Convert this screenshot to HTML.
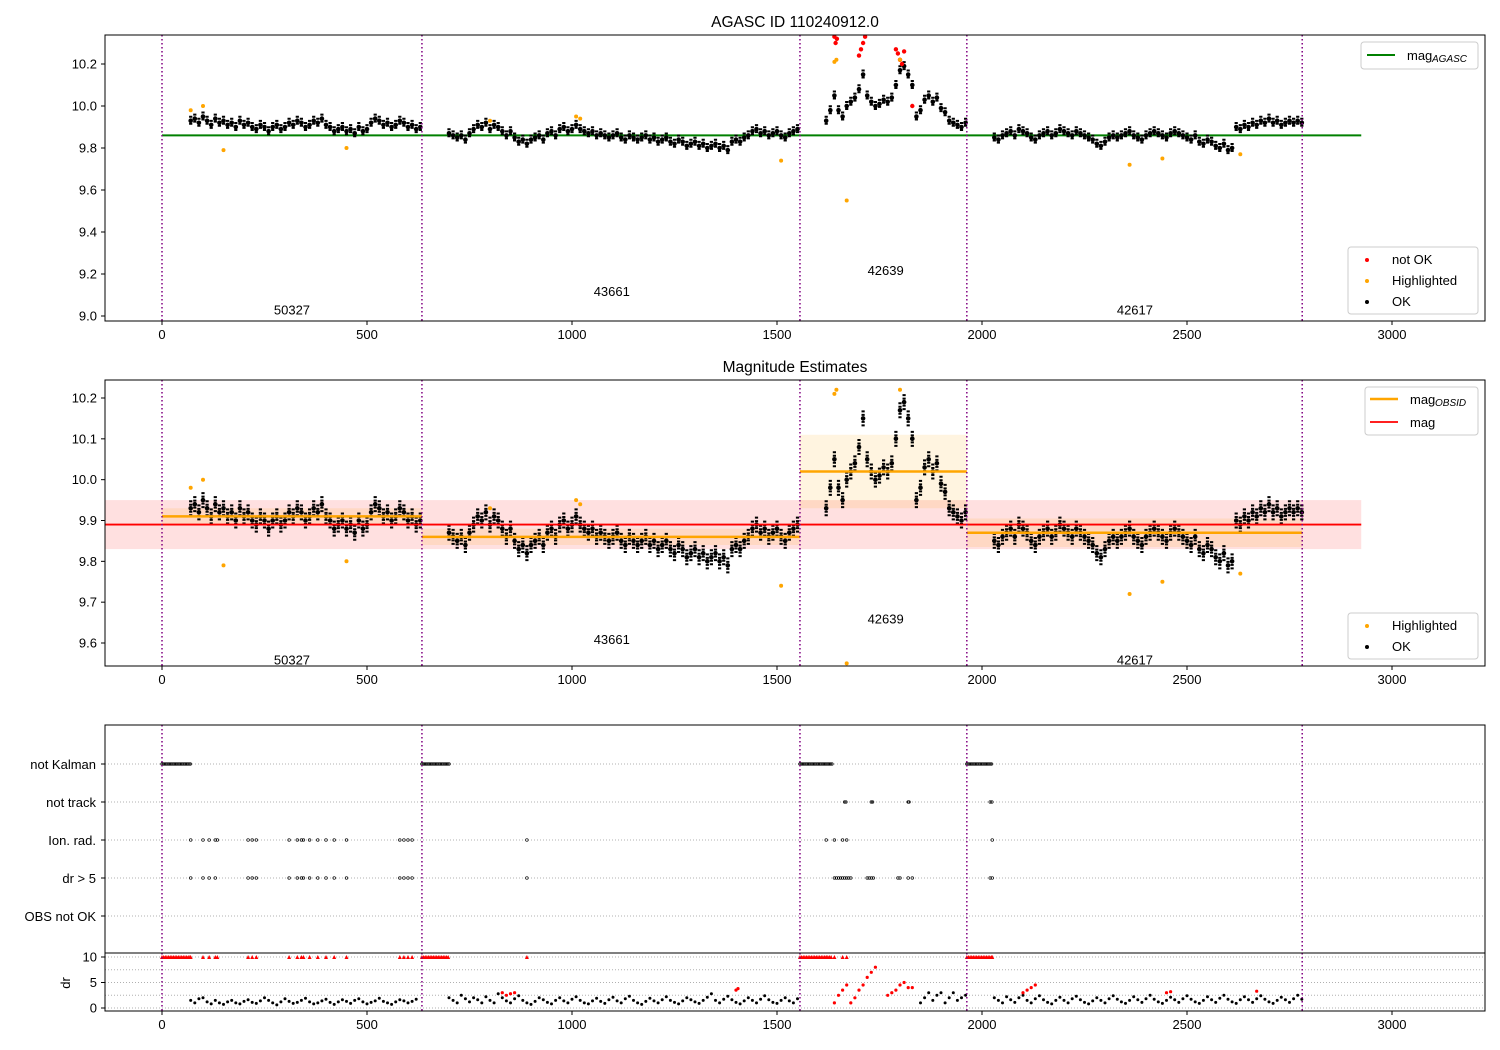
<!DOCTYPE html>
<html><head><meta charset="utf-8"><style>
body{margin:0;background:#fff;}
svg{display:block;font-family:"Liberation Sans","DejaVu Sans",sans-serif;}
text{fill:#000;}
</style></head><body>
<svg id="fig" width="1500" height="1050" viewBox="0 0 1500 1050" xmlns="http://www.w3.org/2000/svg"></svg>
<script>
// ---- data ----
const obsidStarts = [0, 634, 1556, 1963, 2781];
const obsidNames = ["50327", "43661", "42639", "42617"];
const obsidLabelT = [317, 1097, 1765, 2373];
const obsidLabelY1 = [9.03, 9.12, 9.22, 9.03];
const obsidLabelY2 = [9.56, 9.61, 9.66, 9.56];
const segT0 = [70, 700, 1620, 2030];
const segStep = [10, 10, 10, 10];
const mag1 = [9.93,9.94,9.92,9.95,9.93,9.91,9.94,9.92,9.93,9.91,9.92,9.90,9.93,9.91,9.92,9.90,9.89,9.91,9.90,9.88,9.90,9.91,9.89,9.90,9.92,9.91,9.93,9.92,9.90,9.91,9.93,9.92,9.94,9.91,9.90,9.88,9.89,9.90,9.88,9.89,9.87,9.90,9.88,9.89,9.92,9.94,9.93,9.91,9.92,9.90,9.91,9.93,9.92,9.90,9.91,9.89,9.90];
const mag2 = [9.87,9.86,9.85,9.86,9.84,9.87,9.89,9.91,9.90,9.92,9.89,9.91,9.90,9.88,9.86,9.88,9.85,9.83,9.84,9.82,9.84,9.85,9.86,9.84,9.87,9.88,9.86,9.89,9.90,9.88,9.89,9.91,9.89,9.88,9.87,9.88,9.86,9.87,9.86,9.85,9.86,9.87,9.85,9.84,9.86,9.85,9.84,9.85,9.86,9.84,9.85,9.83,9.84,9.85,9.83,9.82,9.84,9.83,9.81,9.82,9.83,9.81,9.82,9.80,9.81,9.82,9.80,9.81,9.79,9.83,9.84,9.83,9.85,9.86,9.88,9.89,9.87,9.88,9.86,9.87,9.88,9.86,9.85,9.87,9.88,9.89];
const mag3 = [9.93,9.98,10.05,9.98,9.95,10.00,10.02,10.04,10.08,10.15,10.05,10.02,10.00,10.01,10.03,10.02,10.04,10.10,10.17,10.19,10.15,10.10,9.95,9.98,10.03,10.05,10.02,10.04,9.99,9.97,9.93,9.92,9.91,9.90,9.92];
const mag4 = [9.85,9.84,9.86,9.87,9.88,9.86,9.89,9.88,9.87,9.85,9.84,9.86,9.87,9.88,9.86,9.87,9.89,9.88,9.87,9.86,9.88,9.87,9.86,9.85,9.84,9.82,9.81,9.83,9.85,9.86,9.85,9.86,9.87,9.88,9.86,9.85,9.84,9.86,9.87,9.88,9.87,9.86,9.85,9.87,9.88,9.87,9.86,9.85,9.84,9.86,9.83,9.82,9.84,9.83,9.81,9.80,9.82,9.79,9.80,9.90,9.89,9.91,9.90,9.92,9.91,9.93,9.92,9.94,9.92,9.93,9.91,9.92,9.93,9.92,9.93,9.92];
const notOkT = [1640,1643,1646,1700,1705,1710,1715,1720,1790,1795,1800,1805,1810,1830];
const notOkV = [10.33,10.30,10.32,10.24,10.27,10.30,10.33,10.35,10.27,10.25,10.22,10.20,10.26,10.00];
const hiT = [70,100,150,450,800,1010,1020,1510,1640,1645,1670,1800,2360,2440,2630];
const hiV = [9.98,10.00,9.79,9.80,9.93,9.95,9.94,9.74,10.21,10.22,9.55,10.22,9.72,9.75,9.77];
const magAgasc = 9.86;
const magMean = 9.89, magStd = 0.06;
const obsMag = [9.91, 9.86, 10.02, 9.87];
const obsStd = [0.02, 0.02, 0.09, 0.035];
const flagNames = ["not Kalman","not track","Ion. rad.","dr > 5","OBS not OK"];
const notKalmanRanges = [[0,70],[634,700],[1556,1635],[1963,2025]];
const notTrackT = [1665,1668,1730,1733,1820,1822,2020,2024];
const ionRadT = [70,100,115,130,135,210,220,230,310,330,340,345,360,380,400,420,450,580,590,600,610,890,1620,1640,1660,1670,2025];
const dr5T = [70,100,115,130,210,220,230,310,330,340,345,360,380,400,420,450,580,590,600,610,890,1640,1645,1650,1655,1660,1665,1670,1675,1680,1720,1725,1730,1735,1795,1800,1820,1830,2020,2025];
const drSegT0 = [70, 700, 1850, 2030];
const dr1 = [1.5,1,1.8,2,1.2,0.8,1.5,1,0.7,1.2,1.5,1,0.8,1.3,1.6,1.1,0.9,1.4,2,1.5,1,0.6,1.2,1.8,1.3,0.9,1.1,1.5,1.9,1.2,0.8,1,1.4,1.7,1.1,0.7,1.2,1.6,1.3,0.9,1.5,1.8,1.2,0.8,1.1,1.4,1.9,1.3,1,0.7,1.2,1.6,1.4,1,1.3,1.7];
const dr2 = [2,1.5,1,2.5,1.8,1.2,2,1.6,1,2.2,1.5,1,2.8,2,1.4,1,1.8,2.4,1.5,1,0.7,1.3,2,1.6,1.1,0.8,1.5,2,1.4,1,1.7,2.2,1.5,1,0.8,1.4,1.9,1.3,0.9,1.6,2.1,1.4,1,1.8,2.3,1.5,1,0.7,1.3,1.9,1.4,1,1.6,2.2,1.5,1.1,0.8,1.4,2,1.6,1.2,0.9,1.5,2.1,2.8,1.5,1,1.7,2.3,1.6,1.1,0.8,1.4,2,1.5,1,1.7,2.4,1.6,1.1,0.9,1.5,2,1.4,1,1.8];
const dr3 = [1,2,3,1.5,2.5,3,1,2,3,1.5,2,2.5];
const dr4 = [2,1.5,1,2.2,1.6,1.1,2,2.5,1.5,1,1.8,2.4,1.6,1.1,0.8,1.5,2.1,1.5,1,1.8,2.3,1.6,1.1,0.8,1.4,2,1.5,1,1.8,2.4,1.7,1.2,0.9,1.5,2.2,1.6,1.1,1.8,2.5,1.7,1.2,0.9,1.5,2.1,1.6,1.1,1.8,2.4,1.7,1.2,0.9,1.5,2.2,1.6,1.1,1.9,2.5,1.7,1.2,0.9,1.6,2.2,1.6,1.1,1.8,2.4,1.7,1.2,0.9,1.5,2.1,1.6,1.1,1.8,2.5,1.7];
const drRedT = [830,840,850,860,1400,1405,1640,1650,1660,1670,1680,1690,1700,1710,1720,1730,1740,1770,1780,1790,1800,1810,1820,1830,2100,2110,2120,2130,2450,2460,2670];
const drRedV = [3,2.5,2.8,3,3.5,3.8,1,2.5,3.5,4.5,1,2,3.5,4.5,6,7,8,2.5,3,3.5,4.5,5,4,4,3,3.5,4,4.5,3,3.2,3.3];
const xTicks = [0,500,1000,1500,2000,2500,3000];
const yTicks1 = [9.0,9.2,9.4,9.6,9.8,10.0,10.2];
const yTicks2 = [9.6,9.7,9.8,9.9,10.0,10.1,10.2];
const drTicks = [0,5,10];

// ---- scales ----
const AX_L=105, AX_R=1485;
const X = t => 162 + t*0.41;
const Y1 = v => 316 - (v-9.0)*210;
const Y2 = v => 643 - (v-9.6)*408.33;
const Yf = i => 764 + i*38;
const Ydr = v => 1008 - v*5.1;
const NS="http://www.w3.org/2000/svg";
const svg=document.getElementById('fig');
function el(tag, attrs, parent){const e=document.createElementNS(NS,tag);for(const k in attrs)e.setAttribute(k,attrs[k]);(parent||svg).appendChild(e);return e;}
function txt(s,x,y,size,anchor,parent){const t=el('text',{x:x,y:y,'font-size':size,'text-anchor':anchor||'middle'},parent);t.textContent=s;return t;}
function dot(x,y,r,fill,g){el('circle',{cx:x.toFixed(1),cy:y.toFixed(1),r:r,fill:fill},g);}

function frame(top,bot,name){
  const f=el('rect',{x:AX_L,y:top,width:AX_R-AX_L,height:bot-top,fill:'none',stroke:'#000','stroke-width':1});
  
  
}
function xAxis(bot,name){
  const g=el('g',{});
  
  
  xTicks.forEach(t=>{el('line',{x1:X(t),x2:X(t),y1:bot,y2:bot+4,stroke:'#000'},g);txt(String(t),X(t),bot+18,13,'middle',g);});
}
function yAxis(ticks,Y,top,bot,name,fmt){
  const g=el('g',{});
  
  
  ticks.forEach(v=>{const y=Y(v);el('line',{x1:AX_L-4,x2:AX_L,y1:y,y2:y,stroke:'#000'},g);txt(fmt(v),AX_L-8,y+4.5,13,'end',g);});
}
function vlines(top,bot,name){
  const g=el('g',{});
  
  
  obsidStarts.forEach(t=>el('line',{x1:X(t),x2:X(t),y1:top,y2:bot,stroke:'#800080','stroke-width':1.5,'stroke-dasharray':'1.5,2.5'},g));
}
function obsLabels(Yf_,ys,name){
  const g=el('g',{});
  
  
  obsidNames.forEach((n,i)=>txt(n,X(obsidLabelT[i]),Yf_(ys[i])+5,13,'middle',g));
}
function magDots(Y,g,top,bot,spread){
  [mag1,mag2,mag3,mag4].forEach((arr,s)=>arr.forEach((v,i)=>{const y=Y(v);if(y>top&&y<bot){const x=X(segT0[s]+i*segStep[s]);
    el('line',{x1:x,x2:x,y1:Math.max(top,y-spread),y2:Math.min(bot,y+spread),stroke:'#000','stroke-width':3.2,'stroke-dasharray':'2,1.5'},g);
    dot(x,y,2.3,'#000',g);}}));
}
const fmt1=v=>v.toFixed(1);

// ---- Panel 1 ----
const P1T=35,P1B=321;
let t1=txt('AGASC ID 110240912.0',795,27,15.5);


const g1=el('g',{});


let gl=el('line',{x1:X(0),x2:X(2925),y1:Y1(magAgasc),y2:Y1(magAgasc),stroke:'#008000','stroke-width':2},g1);


magDots(Y1,g1,P1T,P1B,5);
notOkT.forEach((t,i)=>{const y=Y1(notOkV[i]);if(y>P1T)dot(X(t),y,2.2,'#ff0000',g1);});
hiT.forEach((t,i)=>{const y=Y1(hiV[i]);if(y>P1T&&y<P1B)dot(X(t),y,2,'#ffa500',g1);});
vlines(P1T,P1B,'panel1-obsid-lines');
obsLabels(Y1,obsidLabelY1,'panel1-obsid-labels');
frame(P1T,P1B,'panel1-frame');
xAxis(P1B,'panel1-x-axis');
yAxis(yTicks1,Y1,P1T,P1B,'panel1-y-axis',fmt1);
const lg1=el('g',{});


el('rect',{x:1361,y:42,width:117,height:27,rx:3,fill:'#fff',stroke:'#ccc'},lg1);
el('line',{x1:1367,x2:1395,y1:55,y2:55,stroke:'#008000','stroke-width':2},lg1);
txt('mag',1407,60,13,'start',lg1);
txt('AGASC',1432,62,10,'start',lg1).setAttribute('font-style','italic');
const lg2=el('g',{});


el('rect',{x:1348,y:247,width:130,height:67,rx:3,fill:'#fff',stroke:'#ccc'},lg2);
dot(1367,260,2,'#ff0000',lg2);txt('not OK',1392,264,13,'start',lg2);
dot(1367,281,2,'#ffa500',lg2);txt('Highlighted',1392,285,13,'start',lg2);
dot(1367,302,2,'#000',lg2);txt('OK',1392,306,13,'start',lg2);

// ---- Panel 2 ----
const P2T=380,P2B=666;
let t2=txt('Magnitude Estimates',795,372,15.5);


const g2=el('g',{});


let band=el('rect',{x:105,width:X(2925)-105,y:Y2(magMean+magStd),height:Y2(magMean-magStd)-Y2(magMean+magStd),fill:'#ff0000','fill-opacity':0.12},g2);


obsMag.forEach((m,i)=>{
  const b=el('rect',{x:X(obsidStarts[i]),width:X(obsidStarts[i+1])-X(obsidStarts[i]),y:Y2(m+obsStd[i]),height:Y2(m-obsStd[i])-Y2(m+obsStd[i]),fill:'#ffa500','fill-opacity':0.12},g2);
  
  
});
magDots(Y2,g2,P2T,P2B,8);
hiT.forEach((t,i)=>{const y=Y2(hiV[i]);if(y>P2T&&y<P2B)dot(X(t),y,2,'#ffa500',g2);});
obsMag.forEach((m,i)=>{
  const l=el('line',{x1:X(obsidStarts[i]),x2:X(obsidStarts[i+1]),y1:Y2(m),y2:Y2(m),stroke:'#ffa500','stroke-width':2.5},g2);
  
  
});
let ml=el('line',{x1:105,x2:X(2925),y1:Y2(magMean),y2:Y2(magMean),stroke:'#ff0000','stroke-width':1.8},g2);


vlines(P2T,P2B,'panel2-obsid-lines');
obsLabels(Y2,obsidLabelY2,'panel2-obsid-labels');
frame(P2T,P2B,'panel2-frame');
xAxis(P2B,'panel2-x-axis');
yAxis(yTicks2,Y2,P2T,P2B,'panel2-y-axis',fmt1);
const lg3=el('g',{});


el('rect',{x:1365,y:387,width:113,height:48,rx:3,fill:'#fff',stroke:'#ccc'},lg3);
el('line',{x1:1370,x2:1398,y1:399,y2:399,stroke:'#ffa500','stroke-width':2.5},lg3);
txt('mag',1410,404,13,'start',lg3);
txt('OBSID',1435,406,10,'start',lg3).setAttribute('font-style','italic');
el('line',{x1:1370,x2:1398,y1:422,y2:422,stroke:'#ff0000','stroke-width':1.8},lg3);
txt('mag',1410,427,13,'start',lg3);
const lg4=el('g',{});


el('rect',{x:1348,y:613,width:130,height:46,rx:3,fill:'#fff',stroke:'#ccc'},lg4);
dot(1367,626,2,'#ffa500',lg4);txt('Highlighted',1392,630,13,'start',lg4);
dot(1367,647,2,'#000',lg4);txt('OK',1392,651,13,'start',lg4);

// ---- Panel 3 flags ----
const P3T=725,P3B=953,P4B=1011;
const g3=el('g',{});


flagNames.forEach((n,i)=>{
  el('line',{x1:AX_L,x2:AX_R,y1:Yf(i),y2:Yf(i),stroke:'#b0b0b0','stroke-dasharray':'1,2'},g3);
  el('line',{x1:AX_L-4,x2:AX_L,y1:Yf(i),y2:Yf(i),stroke:'#000'},g3);
  const lab=txt(n,AX_L-9,Yf(i)+5,13,'end',g3);
  
  
});
notKalmanRanges.forEach(r=>{for(let t=r[0];t<=r[1];t+=3)el('circle',{cx:X(t),cy:Yf(0),r:1.3,fill:'none',stroke:'#000','stroke-width':0.7},g3);});
notTrackT.forEach(t=>el('circle',{cx:X(t),cy:Yf(1),r:1.3,fill:'none',stroke:'#000','stroke-width':0.7},g3));
ionRadT.forEach(t=>el('circle',{cx:X(t),cy:Yf(2),r:1.3,fill:'none',stroke:'#000','stroke-width':0.7},g3));
dr5T.forEach(t=>el('circle',{cx:X(t),cy:Yf(3),r:1.3,fill:'none',stroke:'#000','stroke-width':0.7},g3));
vlines(P3T,P3B,'flags-obsid-lines');
frame(P3T,P3B,'flags-frame');

// ---- dr panel ----
const g4=el('g',{});


[0,2.5,5,7.5,10].forEach(v=>el('line',{x1:AX_L,x2:AX_R,y1:Ydr(v),y2:Ydr(v),stroke:'#b0b0b0','stroke-dasharray':'1,2'},g4));
[dr1,dr2,dr3,dr4].forEach((arr,s)=>arr.forEach((v,i)=>dot(X(drSegT0[s]+i*10),Ydr(v),1.5,'#000',g4)));
notKalmanRanges.forEach(r=>{for(let t=r[0];t<=r[1];t+=4)el('path',{d:`M${X(t)-2},${Ydr(10)+2} L${X(t)+2},${Ydr(10)+2} L${X(t)},${Ydr(10)-2}Z`,fill:'#ff0000'},g4);});
ionRadT.forEach(t=>el('path',{d:`M${X(t)-2},${Ydr(10)+2} L${X(t)+2},${Ydr(10)+2} L${X(t)},${Ydr(10)-2}Z`,fill:'#ff0000'},g4));
drRedT.forEach((t,i)=>dot(X(t),Ydr(drRedV[i]),1.6,'#ff0000',g4));
vlines(P3B,P4B,'dr-obsid-lines');
frame(P3B,P4B,'dr-frame');
xAxis(P4B,'dr-x-axis');
yAxis(drTicks,Ydr,P3B,P4B,'dr-y-axis',v=>String(v));
const dl=txt('dr',70,983,13,'middle');
dl.setAttribute('transform','rotate(-90 70 983)');


</script>
</body></html>
